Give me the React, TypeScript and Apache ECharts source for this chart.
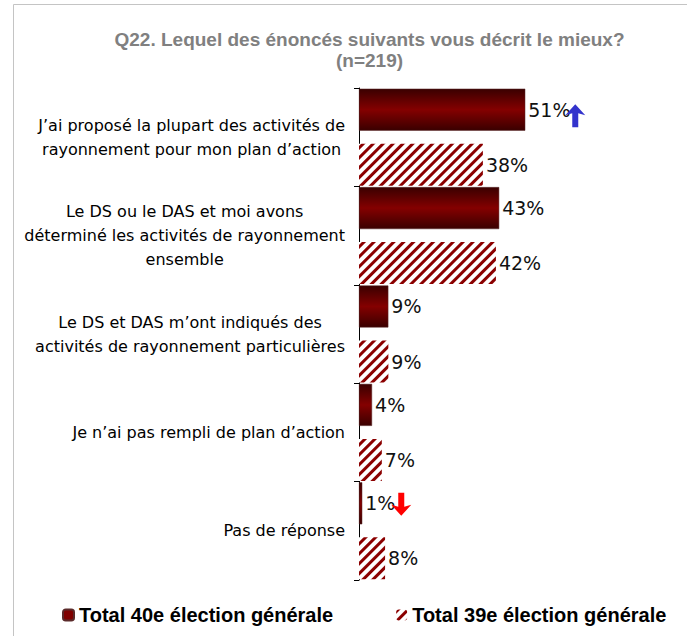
import React, { useEffect, useRef } from "react";
import * as echarts from "echarts";

const categories = [
  "J’ai proposé la plupart des activités de\nrayonnement pour mon plan d’action",
  "Le DS ou le DAS et moi avons\ndéterminé les activités de rayonnement\nensemble",
  "Le DS et DAS m’ont indiqués des\nactivités de rayonnement particulières",
  "Je n’ai pas rempli de plan d’action",
  "Pas de réponse",
];
const seriesNames = ["Total 40e élection générale", "Total 39e élection générale"];
const values40 = [51, 43, 9, 4, 1];
const values39 = [38, 42, 9, 7, 8];
const titleLines = ["Q22. Lequel des énoncés suivants vous décrit le mieux?", "(n=219)"];
// significance markers: category indices
const upMarks = [0];
const downMarks = [4];

const UP_ARROW = "path://M10,0 L20,11 L13,9 L13,23 L7,23 L7,9 L0,11 Z";
const DOWN_ARROW = "path://M7,0 L13,0 L13,14 L20,12 L10,23 L0,12 L7,14 Z";

export default function App() {
  const ref = useRef<HTMLDivElement>(null);
  useEffect(() => {
    if (!ref.current) return;
    const chart = echarts.init(ref.current, null, { renderer: "svg" });
    const darkRed = new echarts.graphic.LinearGradient(0, 0, 0, 1, [
      { offset: 0, color: "#3a0000" },
      { offset: 0.5, color: "#840000" },
      { offset: 1, color: "#3a0000" },
    ]);
    const labelStyle = {
      show: true,
      position: "right" as const,
      distance: 3,
      formatter: "{c}%",
      color: "#111",
      fontSize: 19,
      fontFamily: "DejaVu Sans",
    };
    const markData = [
      ...upMarks.map((i) => ({
        coord: [values40[i], categories[i]],
        symbol: UP_ARROW,
        symbolSize: [20, 23],
        symbolOffset: [50, 6],
        itemStyle: { color: "#3333cc" },
      })),
      ...downMarks.map((i) => ({
        coord: [values40[i], categories[i]],
        symbol: DOWN_ARROW,
        symbolSize: [20, 23],
        symbolOffset: [39, 1],
        itemStyle: { color: "#ff0000" },
      })),
    ];
    chart.setOption({
      animation: false,
      backgroundColor: "#ffffff",
      graphic: [
        {
          type: "rect",
          shape: { x: 13.5, y: 4.5, width: 800, height: 800 },
          style: { fill: "none", stroke: "#c4c4c4", lineWidth: 1 },
          silent: true,
        },
        {
          type: "text",
          x: 369.5,
          y: 49.5,
          style: {
            text: titleLines.join("\n"),
            textAlign: "center",
            textVerticalAlign: "middle",
            fill: "#808080",
            font: "bold 19px 'Liberation Sans'",
            lineHeight: 21,
          },
        },
      ],
      legend: {
        left: 57,
        top: 600,
        itemWidth: 11,
        itemHeight: 11,
        itemGap: 63,
        textStyle: {
          color: "#000",
          fontSize: 20,
          fontWeight: "bold",
          fontFamily: "Liberation Sans",
        },
        data: [
          { name: seriesNames[0], itemStyle: { color: "#800000" } },
          { name: seriesNames[1] },
        ],
      },
      grid: { left: 359, top: 88, width: 326, height: 492, containLabel: false },
      xAxis: {
        type: "value",
        min: 0,
        max: 100,
        show: false,
        splitLine: { show: false },
      },
      yAxis: {
        type: "category",
        inverse: true,
        data: categories,
        axisLine: { show: true, lineStyle: { color: "#000", width: 1 } },
        axisTick: { show: true, length: 5, lineStyle: { color: "#000" } },
        axisLabel: {
          align: "right",
          margin: 14,
          formatter: (v: string) =>
            v
              .split("\n")
              .map((l) => `{ln|${l}}`)
              .join("\n"),
          rich: {
            ln: {
              align: "center",
              color: "#000",
              fontSize: 16,
              lineHeight: 24,
              fontFamily: "DejaVu Sans",
            },
          },
        },
      },
      series: [
        {
          name: seriesNames[0],
          type: "bar",
          data: values40,
          barWidth: 42,
          barGap: "31%",
          itemStyle: { color: darkRed, borderColor: "#5a2a2a", borderWidth: 0.5 },
          label: labelStyle,
          markPoint: { data: markData, label: { show: false }, silent: true },
        },
        {
          name: seriesNames[1],
          type: "bar",
          data: values39,
          barWidth: 42,
          barGap: "31%",
          itemStyle: {
            color: "#ffffff",
            decal: {
              symbol: "rect",
              symbolSize: 1,
              dashArrayX: [1, 0],
              dashArrayY: [3, 4],
              rotation: -Math.PI / 4,
              color: "#8b0000",
            },
          },
          label: labelStyle,
        },
      ],
    });
    return () => chart.dispose();
  }, []);
  return (
    <div
      ref={ref}
      style={{ position: "absolute", left: 0, top: 0, width: 687, height: 636, background: "#fff" }}
    />
  );
}
